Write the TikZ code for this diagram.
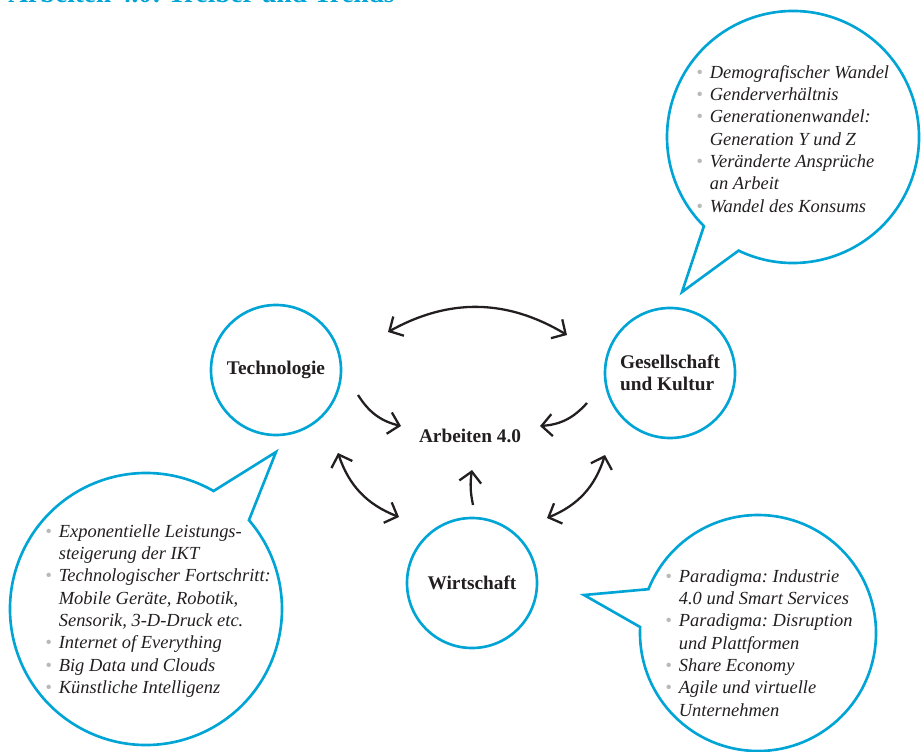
\documentclass[tikz,border=0pt]{standalone}
\usepackage{fontspec}
\setmainfont{Liberation Serif}
\usetikzlibrary{arrows.meta}
\frenchspacing

\definecolor{ringcyan}{RGB}{0,165,214}
\definecolor{inkdark}{RGB}{35,31,32}
\definecolor{dotgray}{RGB}{185,185,185}

% bullet and matching indent for the trend lists
\newcommand{\bul}{{\color{dotgray}\textbullet}\hspace{4pt}}
\newcommand{\ind}{\phantom{\textbullet}\hspace{4pt}}

\tikzset{
  topic/.style={circle, draw=ringcyan, line width=1.5pt, minimum size=26mm, inner sep=0pt,
    align=left, text=inkdark, font=\fontsize{11}{12.7}\selectfont\bfseries},
  bubble/.style={draw=ringcyan, line width=1.5pt},
  trends/.style={anchor=north west, inner sep=0pt, align=left, text=inkdark,
    font=\fontsize{10.5}{12.7}\selectfont\itshape},
  link/.style={draw=inkdark, line width=1.3pt, >={Straight Barb[length=6pt,width=12.5pt]}},
}

\begin{document}
\begin{tikzpicture}[x=0.2mm, y=0.2mm]
\useasboundingbox (0,0) rectangle (921,-752);

% heading, runs off the top edge
\node[anchor=base west, inner sep=0pt, text=ringcyan, font=\fontsize{15.5}{18}\selectfont\bfseries] (title) at (8,-2.5) {Arbeiten 4.0: Treiber und Trends};

% the three drivers and the centre
\node[topic] (tech) at (276,-370) {Technologie};
\node[topic] (ges) at (670,-373) {Gesellschaft\\und Kultur};
\node[topic] (wirt) at (472,-583) {Wirtschaft};
\node[text=inkdark, font=\fontsize{11}{12.7}\selectfont\bfseries] (arb) at (470,-436) {Arbeiten 4.0};

% speech bubbles: circle arc plus tail
\draw[bubble] (793,-137) ++(244.4:126) arc[start angle=244.4, end angle=585, radius=126] -- (682,-292) -- cycle;
\draw[bubble] (146,-609) ++(60.2:136) arc[start angle=60.2, end angle=400.8, radius=136] -- (276,-452) -- cycle;
\draw[bubble] (758,-633) ++(177.1:118) arc[start angle=177.1, end angle=518.2, radius=118] -- (584,-595) -- cycle;

\node[trends] (ges-list) at (696,-65) {\bul Demografischer Wandel\\
  \bul Genderverhältnis\\
  \bul Generationenwandel:\\
  \ind Generation Y und Z\\
  \bul Veränderte Ansprüche\\
  \ind an Arbeit\\
  \bul Wandel des Konsums};

\node[trends] (tech-list) at (45,-524) {\bul Exponentielle Leistungs-\\
  \ind steigerung der IKT\\
  \bul Technologischer Fortschritt:\\
  \ind Mobile Geräte, Robotik,\\
  \ind Sensorik, 3-D-Druck etc.\\
  \bul Internet of Everything\\
  \bul Big Data und Clouds\\
  \bul Künstliche Intelligenz};

\node[trends] (wirt-list) at (665,-569) {\bul Paradigma: Industrie\\
  \ind 4.0 und Smart Services\\
  \bul Paradigma: Disruption\\
  \ind und Plattformen\\
  \bul Share Economy\\
  \bul Agile und virtuelle\\
  \ind Unternehmen};

% arrow ends
\coordinate (tg-l) at (388,-332);
\coordinate (tg-r) at (567,-335);
\coordinate (ta-s) at (358,-395);
\coordinate (ta-e) at (401,-426);
\coordinate (ga-s) at (587,-403);
\coordinate (ga-e) at (540,-426);
\coordinate (tw-t) at (338,-453);
\coordinate (tw-b) at (399,-517);
\coordinate (wa-s) at (473,-505);
\coordinate (wa-e) at (472,-470);
\coordinate (gw-t) at (605,-455);
\coordinate (gw-b) at (547,-518);

\draw[link, <->] (tg-l) to[bend left=30] (tg-r);
\draw[link, ->] (ta-s) to[bend right=22] (ta-e);
\draw[link, ->] (ga-s) to[bend left=22] (ga-e);
\draw[link, <->] (tw-t) to[bend right=25] (tw-b);
\draw[link, ->] (wa-s) to[bend left=10] (wa-e);
\draw[link, <->] (gw-t) to[bend left=25] (gw-b);

\end{tikzpicture}
\end{document}
